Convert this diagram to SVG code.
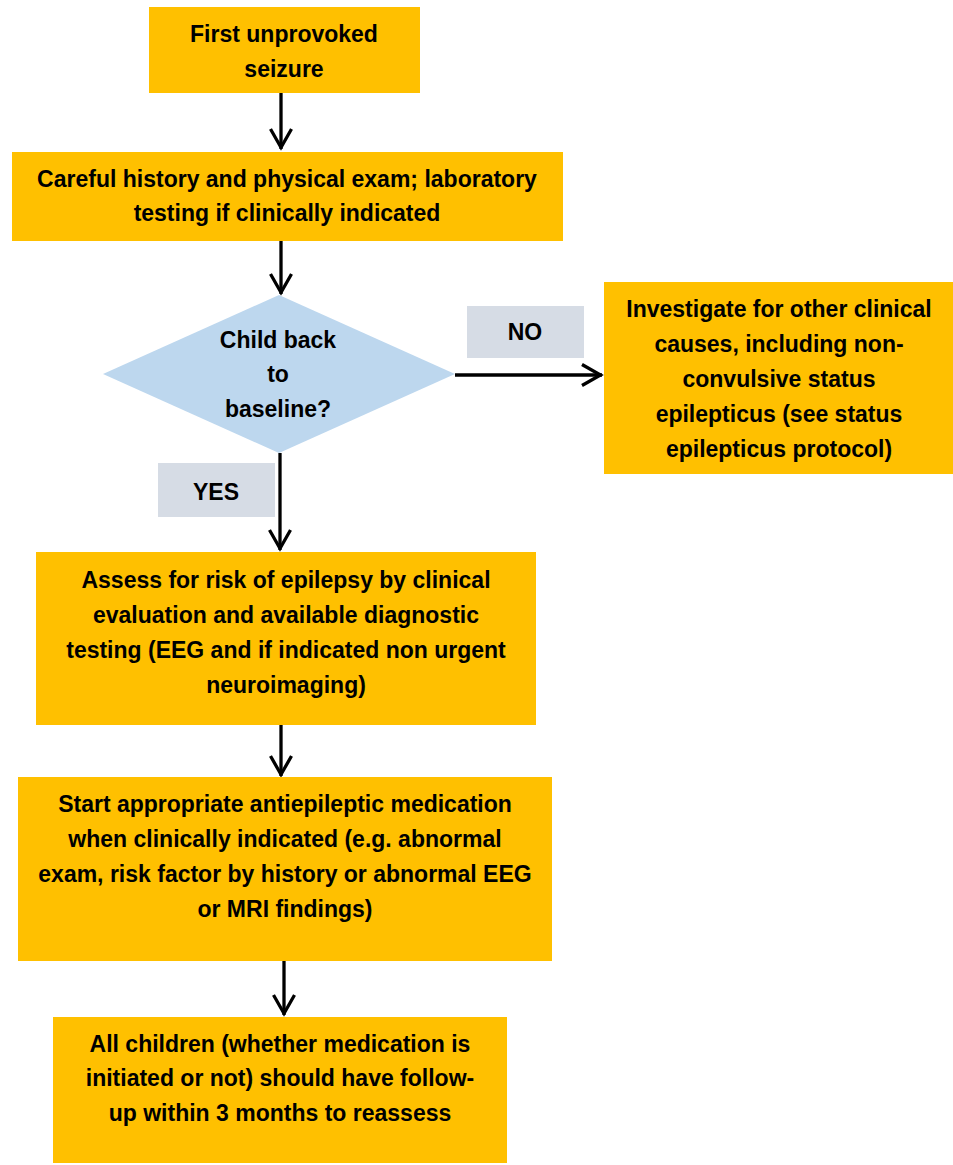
<svg xmlns="http://www.w3.org/2000/svg" width="953" height="1165" viewBox="0 0 953 1165">
<defs>
<style>
.box{fill:#FFC000;}
.dia{fill:#BDD7EE;}
.lbl{fill:#D6DCE5;}
text{font-family:"Liberation Sans",Arial,sans-serif;font-weight:bold;font-size:23px;fill:#000;text-anchor:middle;}
.conn{stroke:#000;stroke-width:3.3;fill:none;marker-end:url(#arr);}
</style>
<marker id="arr" markerUnits="userSpaceOnUse" viewBox="-24 -12 26 24" markerWidth="26" markerHeight="24" refX="0" refY="0" orient="auto" overflow="visible">
<path d="M-20,-10.5 L-1.5,0 L-20,10.5" fill="none" stroke="#000" stroke-width="3.3"/>
</marker>
</defs>
<rect width="953" height="1165" fill="#fff"/>
<g id="connectors">
<line class="conn" x1="281" y1="93" x2="281" y2="149"/>
<line class="conn" x1="281" y1="241" x2="281" y2="294"/>
<line class="conn" x1="455" y1="375" x2="602" y2="375"/>
<line class="conn" x1="280" y1="453" x2="280" y2="550"/>
<line class="conn" x1="281" y1="725" x2="281" y2="776"/>
<line class="conn" x1="284" y1="961" x2="284" y2="1015"/>
</g>
<g id="n1">
<rect class="box" x="149" y="7" width="271" height="86"/>
<text x="284" y="42">First unprovoked</text>
<text x="284" y="77">seizure</text>
</g>
<g id="n2">
<rect class="box" x="12" y="152" width="551" height="89"/>
<text x="287" y="187">Careful history and physical exam; laboratory</text>
<text x="287" y="221">testing if clinically indicated</text>
</g>
<g id="n3">
<polygon class="dia" points="279,295 455,374 279,453 103,374"/>
<text x="278" y="348">Child back</text>
<text x="278" y="382">to</text>
<text x="278" y="417">baseline?</text>
</g>
<g id="lblNo">
<rect class="lbl" x="467" y="306" width="117" height="52"/>
<text x="525" y="340">NO</text>
</g>
<g id="n4">
<rect class="box" x="604" y="282" width="349" height="192"/>
<text x="779" y="317">Investigate for other clinical</text>
<text x="779" y="352">causes, including non-</text>
<text x="779" y="387">convulsive status</text>
<text x="779" y="422">epilepticus (see status</text>
<text x="779" y="457">epilepticus protocol)</text>
</g>
<g id="lblYes">
<rect class="lbl" x="158" y="463" width="117" height="54"/>
<text x="216" y="500">YES</text>
</g>
<g id="n5">
<rect class="box" x="36" y="552" width="500" height="173"/>
<text x="286" y="588">Assess for risk of epilepsy by clinical</text>
<text x="286" y="623">evaluation and available diagnostic</text>
<text x="286" y="658">testing (EEG and if indicated non urgent</text>
<text x="286" y="693">neuroimaging)</text>
</g>
<g id="n6">
<rect class="box" x="18" y="777" width="534" height="184"/>
<text x="285" y="812">Start appropriate antiepileptic medication</text>
<text x="285" y="847">when clinically indicated (e.g. abnormal</text>
<text x="285" y="882">exam, risk factor by history or abnormal EEG</text>
<text x="285" y="917">or MRI findings)</text>
</g>
<g id="n7">
<rect class="box" x="53" y="1017" width="454" height="146"/>
<text x="280" y="1052">All children (whether medication is</text>
<text x="280" y="1086">initiated or not) should have follow-</text>
<text x="280" y="1121">up within 3 months to reassess</text>
</g>
</svg>
